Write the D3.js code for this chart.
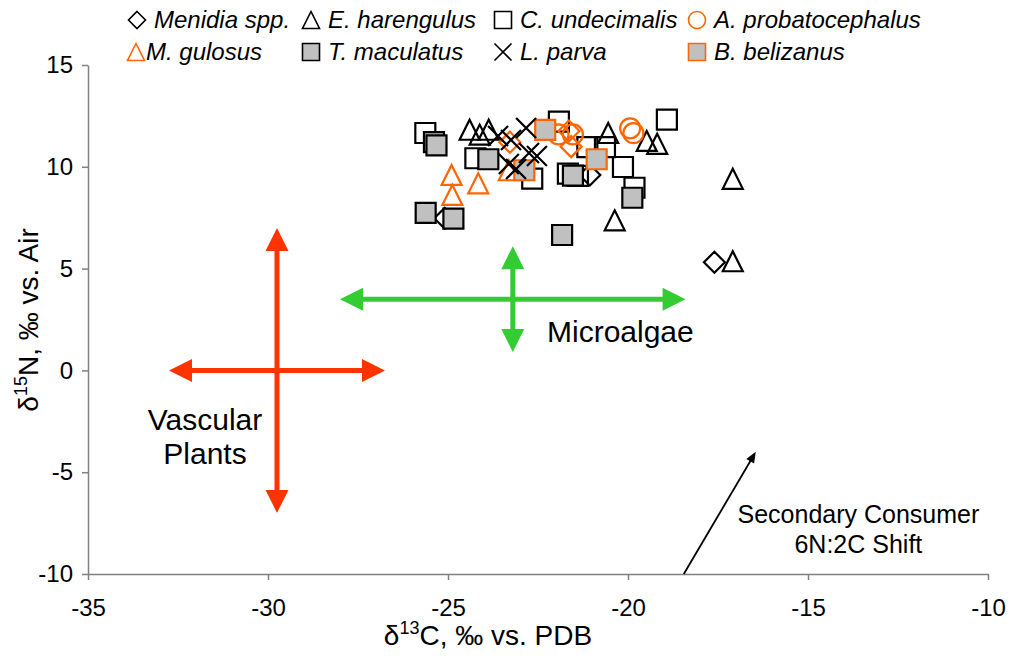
<!DOCTYPE html>
<html>
<head>
<meta charset="utf-8">
<script src="https://cdn.jsdelivr.net/npm/d3@7"></script>
<style>
  body { margin: 0; background: #fff; }
  svg { font-family: Arial, "Liberation Sans", sans-serif; }
</style>
</head>
<body>
<svg width="1013" height="660"></svg>
<script>
// values: [d13C, d15N]
var menidia = [[-25.09, 7.47], [-21.06, 9.60], [-17.60, 5.31]];
var harengulus = [[-24.40, 11.82], [-24.12, 11.58], [-23.87, 11.82], [-20.55, 11.66], [-19.48, 11.27],
                  [-19.19, 11.13], [-20.37, 7.37], [-17.09, 9.41], [-17.09, 5.36]];
var undecimalis = [[-25.63, 11.66], [-24.24, 10.42], [-22.66, 9.42], [-21.92, 12.22], [-21.13, 10.97],
                   [-20.64, 10.97], [-21.67, 9.66], [-21.39, 9.55], [-20.14, 9.99], [-19.82, 8.97], [-18.92, 12.32]];
var probatocephalus = [[-21.93, 11.59], [-21.53, 11.59], [-19.94, 11.89], [-19.85, 11.65]];
var gulosus = [[-24.90, 9.60], [-24.88, 8.62], [-24.16, 9.19], [-23.31, 9.83]];
var maculatus = [[-25.39, 11.21], [-25.32, 11.05], [-23.88, 10.37], [-25.62, 7.74], [-24.85, 7.45],
                 [-21.83, 6.65], [-19.88, 8.48], [-21.53, 9.57]];
var parva = [[-23.61, 11.51], [-23.25, 11.32], [-22.83, 11.91], [-22.75, 10.68], [-22.53, 10.53],
             [-23.31, 10.14], [-23.11, 9.89]];
var belizanus = [[-22.30, 11.81], [-22.88, 9.83], [-20.87, 10.37]];
var unlabeled = [[-23.28, 11.21], [-21.64, 11.76], [-21.58, 10.99]];

var xTicks = [-35, -30, -25, -20, -15, -10];
var xTickLabels = ["-35", "-30", "-25", "-20", "-15", "-10"];
var yTicks = [-10, -5, 0, 5, 10, 15];
var yTickLabels = ["-10", "-5", "0", "5", "10", "15"];

// source end-member ranges (double headed arrows) and the trophic shift vector
var sourceArrows = [
  {x1: -32.75, y1: 0, x2: -26.75, y2: 0, color: "#FF3300"},
  {x1: -29.75, y1: -7, x2: -29.75, y2: 7, color: "#FF3300"},
  {x1: -28, y1: 3.5, x2: -18.4, y2: 3.5, color: "#33CC33"},
  {x1: -23.2, y1: 0.9, x2: -23.2, y2: 6.1, color: "#33CC33"}
];
var shiftArrow = {x1: -18.45, y1: -10, x2: -16.45, y2: -4};

var svg = d3.select("svg"),
    margin = {top: 65, right: 25, bottom: 86, left: 88},
    width = svg.attr("width") - margin.left - margin.right,
    height = svg.attr("height") - margin.top - margin.bottom;

var x = d3.scaleLinear().domain([-35, -10]).range([0, width]),
    y = d3.scaleLinear().domain([-10, 15]).range([height, 0]);

var g = svg.append("g")
    .attr("transform", "translate(" + margin.left + "," + margin.top + ")");

// marker shapes, s = full size in px
function shapePath(type, s) {
  var h = s / 2;
  if (type == "square") return "M" + (-h) + "," + (-h) + "h" + s + "v" + s + "h" + (-s) + "Z";
  if (type == "diamond") return "M0," + (-h) + "L" + h + ",0L0," + h + "L" + (-h) + ",0Z";
  if (type == "triangle") return "M0," + (-h) + "L" + h + "," + h + "L" + (-h) + "," + h + "Z";
  if (type == "cross") return "M" + (-h) + "," + (-h) + "L" + h + "," + h + "M" + h + "," + (-h) + "L" + (-h) + "," + h;
  if (type == "circle") return "M" + h + ",0A" + h + "," + h + " 0 1,1 " + (-h) + ",0A" + h + "," + h + " 0 1,1 " + h + ",0Z";
}

var series = [
  {name: "Menidia spp.", data: menidia, shape: "diamond", fill: "none", stroke: "#000", lx: 137, ly: 20},
  {name: "E. harengulus", data: harengulus, shape: "triangle", fill: "none", stroke: "#000", lx: 311, ly: 20},
  {name: "C. undecimalis", data: undecimalis, shape: "square", fill: "none", stroke: "#000", lx: 503, ly: 20},
  {name: "A. probatocephalus", data: probatocephalus, shape: "circle", fill: "none", stroke: "#FF6600", lx: 697, ly: 20},
  {name: "M. gulosus", data: gulosus, shape: "triangle", fill: "none", stroke: "#FF6600", lx: 136, ly: 52},
  {name: "T. maculatus", data: maculatus, shape: "square", fill: "#C0C0C0", stroke: "#000", lx: 311, ly: 52},
  {name: null, data: unlabeled, shape: "diamond", fill: "none", stroke: "#FF6600"},
  {name: "B. belizanus", data: belizanus, shape: "square", fill: "#C0C0C0", stroke: "#FF6600", lx: 697, ly: 52},
  {name: "L. parva", data: parva, shape: "cross", fill: "none", stroke: "#000", lx: 503, ly: 52}
];

// axes
var xAxis = d3.axisBottom(x).tickValues(xTicks).tickSize(6).tickSizeOuter(0).tickPadding(19)
    .tickFormat(function(d, i) { return xTickLabels[i]; });
var yAxis = d3.axisLeft(y).tickValues(yTicks).tickSize(6).tickSizeOuter(0).tickPadding(9)
    .tickFormat(function(d, i) { return yTickLabels[i]; });

g.append("g")
    .attr("transform", "translate(0," + height + ")")
    .call(xAxis);
g.append("g")
    .call(yAxis);

g.selectAll(".domain, .tick line").attr("stroke", "#808080").attr("stroke-width", 1.5);
g.selectAll(".tick text").attr("fill", "#000").attr("font-size", 24).attr("font-family", "Arial, 'Liberation Sans', sans-serif");

// axis titles
var xt = svg.append("text")
    .attr("x", 488).attr("y", 645)
    .attr("text-anchor", "middle")
    .attr("font-size", 28);
xt.append("tspan").text("\u03B4");
xt.append("tspan").attr("dy", -11).attr("font-size", 18).text("13");
xt.append("tspan").attr("dy", 11).text("C, \u2030 vs. PDB");

var yt = svg.append("text")
    .attr("transform", "translate(38,320)rotate(-90)")
    .attr("text-anchor", "middle")
    .attr("font-size", 28);
yt.append("tspan").text("\u03B4");
yt.append("tspan").attr("dy", -11).attr("font-size", 18).text("15");
yt.append("tspan").attr("dy", 11).text("N, \u2030 vs. Air");

// double headed source arrows
function head(px, py, ang, len, hw) {
  var c = Math.cos(ang), s = Math.sin(ang);
  return "M" + px + "," + py +
    "L" + (px - len * c - hw * s) + "," + (py - len * s + hw * c) +
    "L" + (px - len * c + hw * s) + "," + (py - len * s - hw * c) + "Z";
}

var arrows = g.selectAll(".src")
    .data(sourceArrows)
  .enter().append("g")
    .attr("class", "src");

arrows.append("line")
    .attr("x1", function(d) { var a = Math.atan2(y(d.y2) - y(d.y1), x(d.x2) - x(d.x1)); return x(d.x1) + 18 * Math.cos(a); })
    .attr("y1", function(d) { var a = Math.atan2(y(d.y2) - y(d.y1), x(d.x2) - x(d.x1)); return y(d.y1) + 18 * Math.sin(a); })
    .attr("x2", function(d) { var a = Math.atan2(y(d.y2) - y(d.y1), x(d.x2) - x(d.x1)); return x(d.x2) - 18 * Math.cos(a); })
    .attr("y2", function(d) { var a = Math.atan2(y(d.y2) - y(d.y1), x(d.x2) - x(d.x1)); return y(d.y2) - 18 * Math.sin(a); })
    .attr("stroke", function(d) { return d.color; })
    .attr("stroke-width", 5);

arrows.append("path")
    .attr("d", function(d) {
      var a = Math.atan2(y(d.y2) - y(d.y1), x(d.x2) - x(d.x1));
      return head(x(d.x2), y(d.y2), a, 23, 11.5) + head(x(d.x1), y(d.y1), a + Math.PI, 23, 11.5);
    })
    .attr("fill", function(d) { return d.color; });

// source labels
g.append("text").attr("x", x(-22.25)).attr("y", y(1.4))
    .attr("font-size", 30).text("Microalgae");
var vp = g.append("text").attr("text-anchor", "middle").attr("font-size", 30);
vp.append("tspan").attr("x", x(-31.75)).attr("y", y(-2.95)).text("Vascular");
vp.append("tspan").attr("x", x(-31.75)).attr("y", y(-4.6)).text("Plants");

// trophic shift vector
var sx1 = x(shiftArrow.x1), sy1 = y(shiftArrow.y1), sx2 = x(shiftArrow.x2), sy2 = y(shiftArrow.y2);
var sa = Math.atan2(sy2 - sy1, sx2 - sx1);
g.append("line")
    .attr("x1", sx1).attr("y1", sy1)
    .attr("x2", sx2 - 8 * Math.cos(sa)).attr("y2", sy2 - 8 * Math.sin(sa))
    .attr("stroke", "#000").attr("stroke-width", 1.8);
g.append("path").attr("d", head(sx2, sy2, sa, 11, 4.5)).attr("fill", "#000");

var sc = g.append("text").attr("text-anchor", "middle").attr("font-size", 25);
sc.append("tspan").attr("x", x(-13.6)).attr("y", y(-7.5)).text("Secondary Consumer");
sc.append("tspan").attr("x", x(-13.6)).attr("y", y(-8.97)).text("6N:2C Shift");

// points
series.forEach(function(s) {
  g.append("g").selectAll("path")
      .data(s.data)
    .enter().append("path")
      .attr("transform", function(d) { return "translate(" + x(d[0]) + "," + y(d[1]) + ")"; })
      .attr("d", shapePath(s.shape, s.shape == "diamond" ? 21 : 20))
      .attr("fill", s.fill)
      .attr("stroke", s.stroke)
      .attr("stroke-width", 2.2);
});

// legend
var legend = svg.append("g");
series.filter(function(s) { return s.name; }).forEach(function(s) {
  legend.append("path")
      .attr("transform", "translate(" + s.lx + "," + s.ly + ")")
      .attr("d", shapePath(s.shape, 17))
      .attr("fill", s.fill)
      .attr("stroke", s.stroke)
      .attr("stroke-width", 1.6);
  legend.append("text")
      .attr("x", s.lx + (s.name == "M. gulosus" ? 10 : 17))
      .attr("y", s.ly + 8)
      .attr("font-size", 24)
      .attr("font-style", "italic")
      .text(s.name);
});
</script>
</body>
</html>
